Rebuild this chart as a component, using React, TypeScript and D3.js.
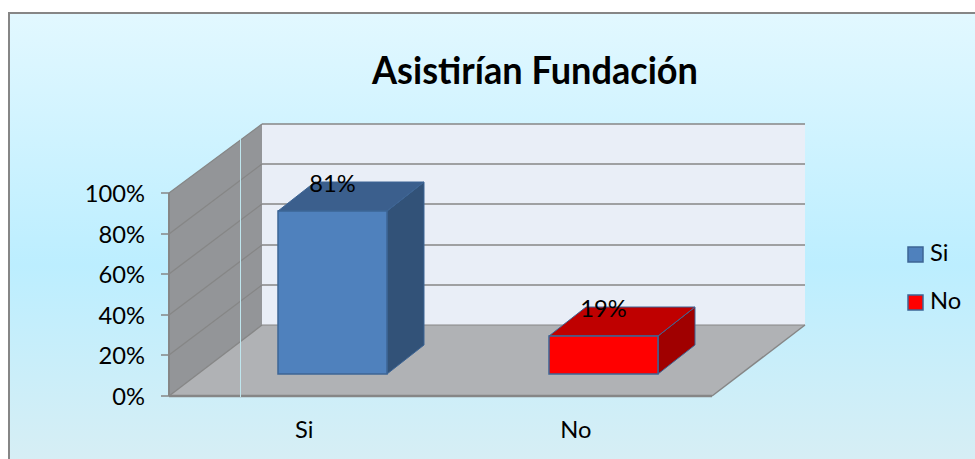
import React from "react";
import * as d3 from "d3";

const categories = ["Si", "No"];
const values = [0.81, 0.19];
const labels = ["81%", "19%"];
const ticks = [0, 0.2, 0.4, 0.6, 0.8, 1];
const frontColors = ["#4f81bd", "#ff0000"];
const topColors = ["#3b5f8d", "#bf0000"];
const sideColors = ["#325278", "#a00000"];
const edgeColor = "#3d6595";
const title = "Asistirían Fundación";
const FONT = "Lato, 'Noto Sans', sans-serif";

const W = 975, H = 459;
const x0 = 169, x1 = 712, yBase = 396, yTop = 193;
const depthX = 93;
const backBase = 325, backTop = 124;
const barDepthX = 37, barDepthY = -29;
const barWidth = 109, barOffset = 28, barBase = 374;

const yFront = d3.scaleLinear().domain([0, 1]).range([yBase, yTop]);
const yBack = d3.scaleLinear().domain([0, 1]).range([backBase, backTop]);
const yBar = d3.scaleLinear().domain([0, 1]).range([barBase, barBase - 201]);
const xBand = d3.scaleBand<string>().domain(categories).range([x0, x1]);
const line = d3.line();

const pct = d3.format(".0%");
const grid = "#868686";

export default function App() {
  const bw = barWidth;
  return (
    <svg width={W} height={H} style={{ position: "absolute", left: 0, top: 0, fontFamily: FONT }}>
      <defs>
        <linearGradient id="bg" x1="0" y1="0" x2="0" y2="1">
          <stop offset="0" stopColor="#e2f8ff" />
          <stop offset="0.55" stopColor="#bceeff" />
          <stop offset="1" stopColor="#d8eef4" />
        </linearGradient>
      </defs>
      <rect x={0} y={0} width={W} height={H} fill="#fff" />
      <rect x={9} y={13} width={W + 10} height={H} fill="url(#bg)" stroke={grid} strokeWidth={2} />

      <text x={372} y={84} fontSize={38.5} fontWeight={700} fill="#000" textLength={326} lengthAdjust="spacingAndGlyphs">{title}</text>

      <rect x={x0 + depthX} y={backTop} width={x1 - x0} height={backBase - backTop} fill="#e9eef7" />
      <path d={line([[x0, yBase], [x0, yTop], [x0 + depthX, backTop], [x0 + depthX, backBase]])!} fill="#939598" />
      <path d={line([[x0, yBase], [x1, yBase], [x1 + depthX, backBase], [x0 + depthX, backBase]])!} fill="#b0b2b5" />
      <path d={line([[x1, yBase], [x1 + depthX, backBase]])!} fill="none" stroke={grid} strokeWidth={1.5} />
      <line x1={x0 + depthX} x2={x1 + depthX} y1={backBase} y2={backBase} stroke={grid} strokeWidth={1} />

      {ticks.map((t) => {
        const y = Math.round(yFront(t));
        const yb = Math.round(yBack(t));
        return (
          <g key={t}>
            <line x1={x0 - 8} x2={x0} y1={y} y2={y} stroke={grid} strokeWidth={1.5} />
            <path d={line([[x0, y], [x0 + depthX, yb]])!} fill="none" stroke={grid} strokeWidth={1.3} />
            {t > 0 && <line x1={x0 + depthX} x2={x1 + depthX} y1={yb} y2={yb} stroke={grid} strokeWidth={1.6} />}
            <text x={145} y={y + 9} textAnchor="end" fontSize={23.7} fill="#000">{pct(t)}</text>
          </g>
        );
      })}
      <line x1={x0} x2={x0} y1={yTop} y2={yBase} stroke={grid} strokeWidth={2} />
      <line x1={x0} x2={x1} y1={yBase} y2={yBase} stroke={grid} strokeWidth={2.5} />
      <line x1={240.5} x2={240.5} y1={139} y2={397} stroke="#bfe6ee" strokeWidth={1} />

      {categories.map((c, i) => {
        const cx = xBand(c)! + xBand.bandwidth() / 2;
        const l = Math.floor(cx - bw / 2 + barOffset);
        const r = l + bw;
        const yt = Math.round(yBar(values[i]));
        const top: [number, number][] = [[l, yt], [r, yt], [r + barDepthX, yt + barDepthY], [l + barDepthX, yt + barDepthY]];
        const side: [number, number][] = [[r, yt], [r + barDepthX, yt + barDepthY], [r + barDepthX, barBase + barDepthY], [r, barBase]];
        return (
          <g key={c}>
            <path d={line(side)! + "Z"} fill={sideColors[i]} stroke={edgeColor} strokeWidth={1} />
            <path d={line(top)! + "Z"} fill={topColors[i]} stroke={edgeColor} strokeWidth={1} />
            <rect x={l} y={yt} width={bw} height={barBase - yt} fill={frontColors[i]} stroke={edgeColor} strokeWidth={1.5} />
            <text x={l + 54.5} y={yt - 19} textAnchor="middle" fontSize={23.7} fill="#000">{labels[i]}</text>
            <text x={cx - 0.5} y={438} textAnchor="middle" fontSize={23.7} fill="#000">{c}</text>
          </g>
        );
      })}

      {categories.map((c, i) => (
        <g key={c}>
          <rect x={908} y={247 + i * 48} width={15} height={15} fill={frontColors[i]} stroke={edgeColor} strokeWidth={1.5} />
          <text x={930} y={261 + i * 48} fontSize={23.7} fill="#000">{c}</text>
        </g>
      ))}
    </svg>
  );
}
